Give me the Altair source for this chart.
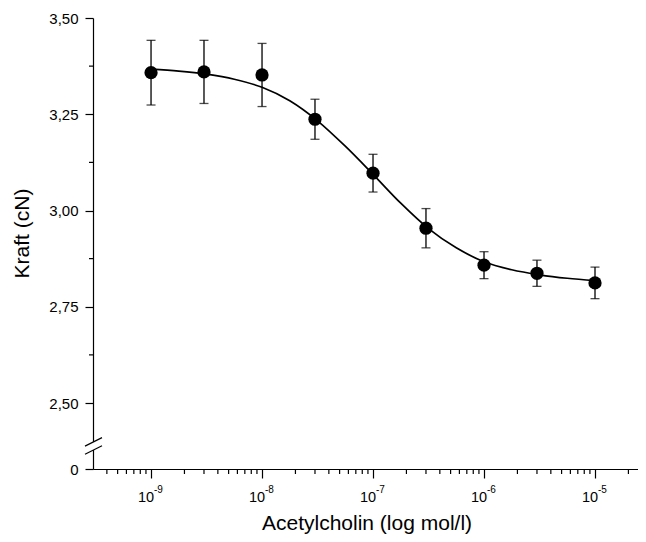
import altair as alt
import pandas as pd

# ---- data ----
conc = [1e-9, 3e-9, 1e-8, 3e-8, 1e-7, 3e-7, 1e-6, 3e-6, 1e-5]
force = [3.358, 3.360, 3.352, 3.237, 3.097, 2.954, 2.858, 2.837, 2.812]
sem = [0.084, 0.082, 0.082, 0.052, 0.049, 0.051, 0.035, 0.034, 0.041]

fit_logc = [-9.0, -8.75, -8.5, -8.25, -8.0, -7.75, -7.5, -7.25, -7.0,
            -6.75, -6.5, -6.25, -6.0, -5.75, -5.5, -5.25, -5.0]
fit_force = [3.367, 3.362, 3.354, 3.341, 3.320, 3.285, 3.233, 3.167, 3.094,
             3.019, 2.953, 2.903, 2.867, 2.846, 2.833, 2.824, 2.818]

x_major = [1e-9, 1e-8, 1e-7, 1e-6, 1e-5]
x_base = ["10", "10", "10", "10", "10"]
x_exp = ["-9", "-8", "-7", "-6", "-5"]
x_minor_mult = [2, 3, 4, 5, 6, 7, 8, 9]
x_decades = [-10, -9, -8, -7, -6, -5]

y_zero_pos = 2.3286          # position of the "0" tick below the axis break
y_major = [y_zero_pos, 2.5, 2.75, 3.0, 3.25, 3.5]
y_minor = [2.625, 2.875, 3.125, 3.375]
break_centers = [2.399, 2.378]

x_domain = [3e-10, 2.44e-5]
y_domain = [y_zero_pos, 3.5]

W, H = 545, 451
FONT = "Liberation Sans"

# ---- tables ----
pts = pd.DataFrame({"conc": conc, "force": force, "sem": sem})
pts["low"] = pts["force"] - pts["sem"]
pts["high"] = pts["force"] + pts["sem"]
fit = pd.DataFrame({"conc": [10 ** v for v in fit_logc], "force": fit_force})
lab = pd.DataFrame({"conc": x_major, "base": x_base, "exp": x_exp})
xminor = [m * 10.0 ** d for d in x_decades for m in x_minor_mult]
xminor = pd.DataFrame({"conc": [v for v in xminor if x_domain[0] * 1.05 < v < x_domain[1]]})
yminor = pd.DataFrame({"v": y_minor})
brk = pd.DataFrame({"c": break_centers})
brk["y1"] = brk["c"] - 0.011
brk["y2"] = brk["c"] + 0.011

xs = alt.Scale(type="log", domain=x_domain, nice=False)
ys = alt.Scale(domain=y_domain, nice=False, zero=False)

x_axis = alt.Axis(
    values=x_major, labels=False, grid=False, tickSize=9,
    tickColor="black", tickWidth=1.2, domainColor="black", domainWidth=1.2,
    title="Acetylcholin (log mol/l)", titleFont=FONT, titleFontSize=21,
    titleFontWeight="normal", titleColor="black",
    titleX=W / 2 + 1, titleY=60, titleBaseline="alphabetic", titleAlign="center",
)
y_axis = alt.Axis(
    values=y_major, grid=False, tickSize=8,
    tickColor="black", tickWidth=1.2, domainColor="black", domainWidth=1.2,
    labelExpr="datum.value < 2.4 ? '0' : replace(format(datum.value, '.2f'), '.', ',')",
    labelFont=FONT, labelFontSize=15, labelColor="black", labelPadding=7,
    labelOverlap=False,
    title="Kraft (cN)", titleFont=FONT, titleFontSize=21, titleFontWeight="normal",
    titleColor="black", titleAngle=-90, titleX=-65, titleY=215,
    titleBaseline="alphabetic", titleAlign="center",
)

base_pts = alt.Chart(pts)

curve = alt.Chart(fit).mark_line(color="black", strokeWidth=1.7, interpolate="monotone").encode(
    x=alt.X("conc:Q", scale=xs, axis=x_axis),
    y=alt.Y("force:Q", scale=ys, axis=y_axis),
)
bars = base_pts.mark_rule(color="black", strokeWidth=1.3).encode(
    x=alt.X("conc:Q", scale=xs),
    y=alt.Y("low:Q", scale=ys),
    y2="high:Q",
)
cap_lo = base_pts.mark_tick(color="black", orient="horizontal", size=9, thickness=1.3).encode(
    x=alt.X("conc:Q", scale=xs),
    y=alt.Y("low:Q", scale=ys),
)
cap_hi = base_pts.mark_tick(color="black", orient="horizontal", size=9, thickness=1.3).encode(
    x=alt.X("conc:Q", scale=xs),
    y=alt.Y("high:Q", scale=ys),
)
dots = base_pts.mark_point(filled=True, color="black", opacity=1, size=175, shape="circle").encode(
    x=alt.X("conc:Q", scale=xs),
    y=alt.Y("force:Q", scale=ys),
)
x_minor_ticks = alt.Chart(xminor).mark_rule(color="black", strokeWidth=1.2).encode(
    x=alt.X("conc:Q", scale=xs),
    y=alt.value(H), y2=alt.value(H + 5),
)
y_minor_ticks = alt.Chart(yminor).mark_rule(color="black", strokeWidth=1.2).encode(
    y=alt.Y("v:Q", scale=ys),
    x=alt.value(-4), x2=alt.value(0),
)
gap = alt.Chart(brk).mark_rule(color="white", strokeWidth=4).encode(
    x=alt.value(0),
    y=alt.Y("min(c):Q", scale=ys),
    y2="max(c):Q",
)
slashes = alt.Chart(brk).mark_rule(color="black", strokeWidth=1.2).encode(
    x=alt.value(-8), x2=alt.value(9),
    y=alt.Y("y1:Q", scale=ys),
    y2="y2:Q",
)
lab10 = alt.Chart(lab).mark_text(font=FONT, fontSize=14.5, color="black", align="center",
                                 baseline="alphabetic", dx=-5).encode(
    x=alt.X("conc:Q", scale=xs),
    y=alt.value(H + 33),
    text="base:N",
)
labexp = alt.Chart(lab).mark_text(font=FONT, fontSize=10, color="black", align="left",
                                  baseline="alphabetic", dx=3).encode(
    x=alt.X("conc:Q", scale=xs),
    y=alt.value(H + 24),
    text="exp:N",
)

chart = alt.layer(x_minor_ticks, y_minor_ticks, curve, bars, cap_lo, cap_hi, dots,
                  gap, slashes, lab10, labexp).properties(
    width=W, height=H,
    autosize=alt.AutoSizeParams(type="none"),
    padding={"left": 85, "top": 10, "right": 0, "bottom": 65},
    background="white",
).configure_view(stroke=None)

chart.save("out.html", embed_options={"renderer": "svg", "actions": False})
